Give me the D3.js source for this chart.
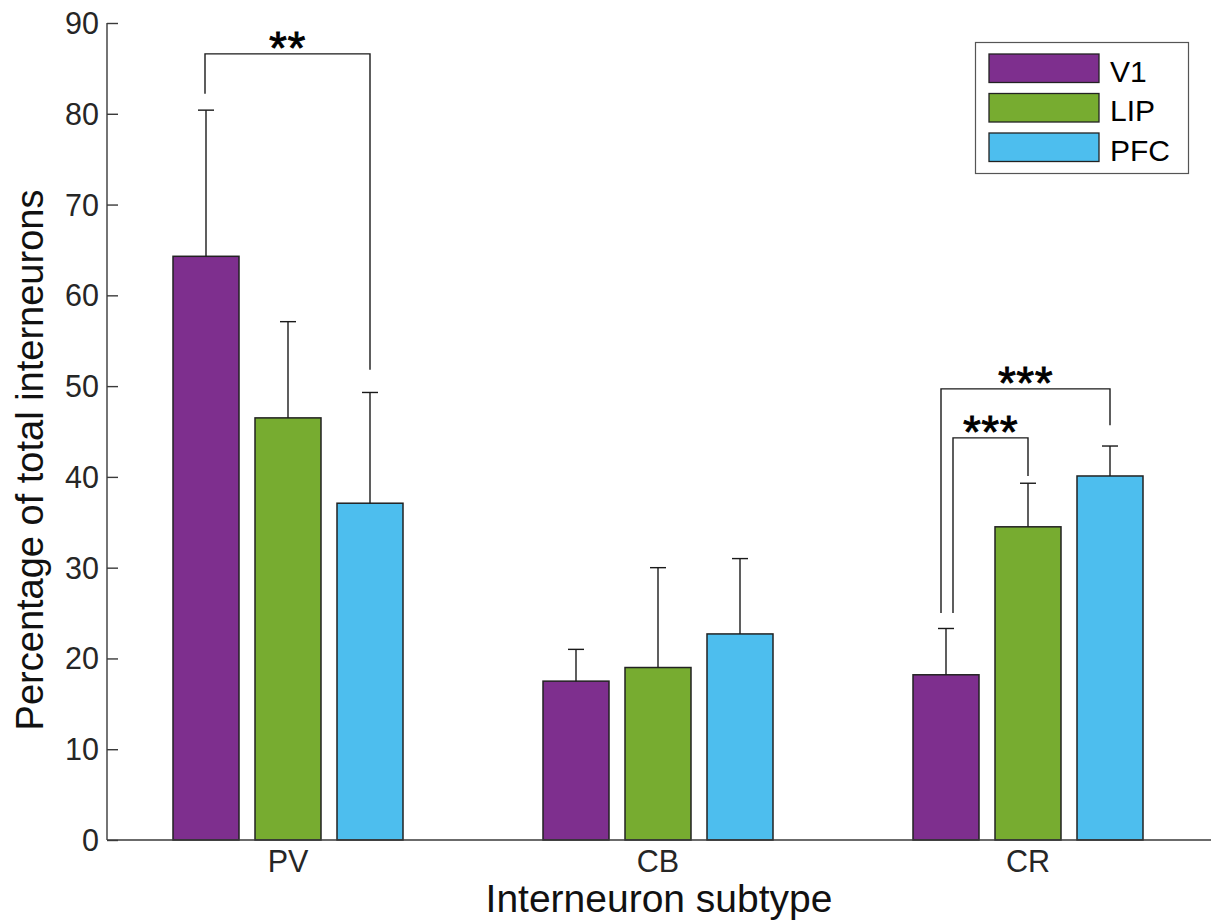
<!DOCTYPE html>
<html>
<head>
<meta charset="utf-8">
<script src="https://cdn.jsdelivr.net/npm/d3@7"></script>
<style>
  body { margin: 0; background: #fff; }
  svg { display: block; font-family: "Liberation Sans", Arial, Helvetica, sans-serif; }
</style>
</head>
<body>
<svg id="chart" width="1211" height="921"></svg>
<script>
// ---------- data ----------
const categories = ["PV", "CB", "CR"];
const series = ["V1", "LIP", "PFC"];
const seriesColors = ["#7E2F8E", "#77AC30", "#4DBEEE"];
// mean values per series, in category order
const meanV1  = [64.3, 17.5, 18.2];
const meanLIP = [46.5, 19.0, 34.5];
const meanPFC = [37.1, 22.7, 40.1];
// upper error bar ends
const errV1  = [80.4, 21.0, 23.3];
const errLIP = [57.1, 30.0, 39.3];
const errPFC = [49.3, 31.0, 43.4];
const yTicks = [0, 10, 20, 30, 40, 50, 60, 70, 80, 90];
const yLabel = "Percentage of total interneurons";
const xLabel = "Interneuron subtype";
// significance brackets: category, from series, to series, top, left leg end, right leg end, label
const bracketCat   = ["PV", "CR", "CR"];
const bracketFrom  = ["V1", "V1", "V1"];
const bracketTo    = ["PFC", "LIP", "PFC"];
const bracketTop   = [86.6, 44.3, 49.7];
const bracketLeft  = [82.2, 25.0, 25.0];
const bracketRight = [51.8, 40.1, 45.7];
const bracketText  = ["**", "***", "***"];

const means = [meanV1, meanLIP, meanPFC];
const errs = [errV1, errLIP, errPFC];
const bars = [];
categories.forEach((c, ci) => series.forEach((s, si) => {
  bars.push({cat: c, ser: s, value: means[si][ci], err: errs[si][ci], color: seriesColors[si]});
}));

// ---------- layout ----------
const svg = d3.select("#chart");
const axisX = 107, plotTop = 23, plotBottom = 840, plotRight = 1211;
const y = d3.scaleLinear().domain([0, 90]).range([plotBottom, plotTop]);
const xGroup = d3.scaleBand().domain(categories).range([103, 1213]).padding(0);
const xInner = d3.scaleBand().domain(series).range([-123, 123])
  .paddingInner(16 / 82).paddingOuter(8 / 82);
const barX = (c, s) => xGroup(c) + xGroup.bandwidth() / 2 + xInner(s);
const barCx = (c, s) => barX(c, s) + xInner.bandwidth() / 2;

const axisColor = "#3a3a3a";
const textColor = "#262626";
const lineColor = "#1a1a1a";

// bars
svg.append("g").selectAll("rect").data(bars).join("rect")
  .attr("x", d => barX(d.cat, d.ser))
  .attr("y", d => y(d.value))
  .attr("width", xInner.bandwidth())
  .attr("height", d => y(0) - y(d.value))
  .attr("fill", d => d.color)
  .attr("stroke", "#222")
  .attr("stroke-width", 1.5);

// error bars
const eb = svg.append("g").attr("stroke", lineColor).attr("stroke-width", 1.4).attr("fill", "none");
eb.selectAll("line.v").data(bars).join("line").attr("class", "v")
  .attr("x1", d => barCx(d.cat, d.ser)).attr("x2", d => barCx(d.cat, d.ser))
  .attr("y1", d => y(d.value)).attr("y2", d => y(d.err));
eb.selectAll("line.c").data(bars).join("line").attr("class", "c")
  .attr("x1", d => barCx(d.cat, d.ser) - 8).attr("x2", d => barCx(d.cat, d.ser) + 8)
  .attr("y1", d => y(d.err)).attr("y2", d => y(d.err));

// y axis (ticks inward)
const yAxis = d3.axisRight(y).tickValues(yTicks).tickSize(11).tickFormat("");
const gy = svg.append("g").attr("transform", `translate(${axisX},0)`).call(yAxis);
gy.select(".domain").attr("stroke", axisColor).attr("stroke-width", 1.4).attr("d", `M0,${plotTop}V${plotBottom}`);
gy.selectAll(".tick line").attr("stroke", axisColor).attr("stroke-width", 1.4);
svg.append("g").selectAll("text").data(yTicks).join("text")
  .attr("x", axisX - 8).attr("y", d => y(d)).attr("dy", "0.36em")
  .attr("text-anchor", "end").attr("font-size", 30.5).attr("fill", textColor)
  .text(d => d);

// x axis line
svg.append("line").attr("x1", axisX).attr("x2", plotRight).attr("y1", plotBottom).attr("y2", plotBottom)
  .attr("stroke", axisColor).attr("stroke-width", 1.6);
svg.append("g").selectAll("text").data(categories).join("text")
  .attr("x", d => xGroup(d) + xGroup.bandwidth() / 2).attr("y", 872)
  .attr("text-anchor", "middle").attr("font-size", 30.5).attr("fill", textColor)
  .text(d => d);

// axis labels
svg.append("text").attr("x", 659).attr("y", 912).attr("text-anchor", "middle")
  .attr("font-size", 39).attr("fill", "#111").text(xLabel);
svg.append("text").attr("transform", "translate(43,460) rotate(-90)").attr("text-anchor", "middle")
  .attr("font-size", 38).attr("fill", "#111").text(yLabel);

// significance brackets
const leftShift = [-1, 7, -5];
const bg = svg.append("g");
bracketCat.forEach((c, i) => {
  const xl = barCx(c, bracketFrom[i]) + leftShift[i];
  const xr = barCx(c, bracketTo[i]);
  const yt = y(bracketTop[i]);
  bg.append("path")
    .attr("d", `M${xl},${y(bracketLeft[i])}V${yt}H${xr}V${y(bracketRight[i])}`)
    .attr("fill", "none").attr("stroke", lineColor).attr("stroke-width", 1.4);
  bg.append("text").attr("x", (xl + xr) / 2).attr("y", yt + 10)
    .attr("text-anchor", "middle").attr("font-size", 46)
    .attr("letter-spacing", 0.5)
    .attr("stroke", "#000").attr("stroke-width", 0.8)
    .attr("fill", "#000")
    .text(bracketText[i]);
});

// legend
const lg = svg.append("g");
lg.append("rect").attr("x", 975.5).attr("y", 42.5).attr("width", 213).attr("height", 131)
  .attr("fill", "#fff").attr("stroke", "#555").attr("stroke-width", 1.2);
series.forEach((s, i) => {
  const top = 54 + i * 39.5;
  lg.append("rect").attr("x", 989).attr("y", top).attr("width", 110).attr("height", 28.5)
    .attr("fill", seriesColors[i]).attr("stroke", "#222").attr("stroke-width", 1.3);
  lg.append("text").attr("x", 1110).attr("y", top + 27.5).attr("font-size", 30)
    .attr("fill", "#000").text(s);
});
</script>
</body>
</html>
